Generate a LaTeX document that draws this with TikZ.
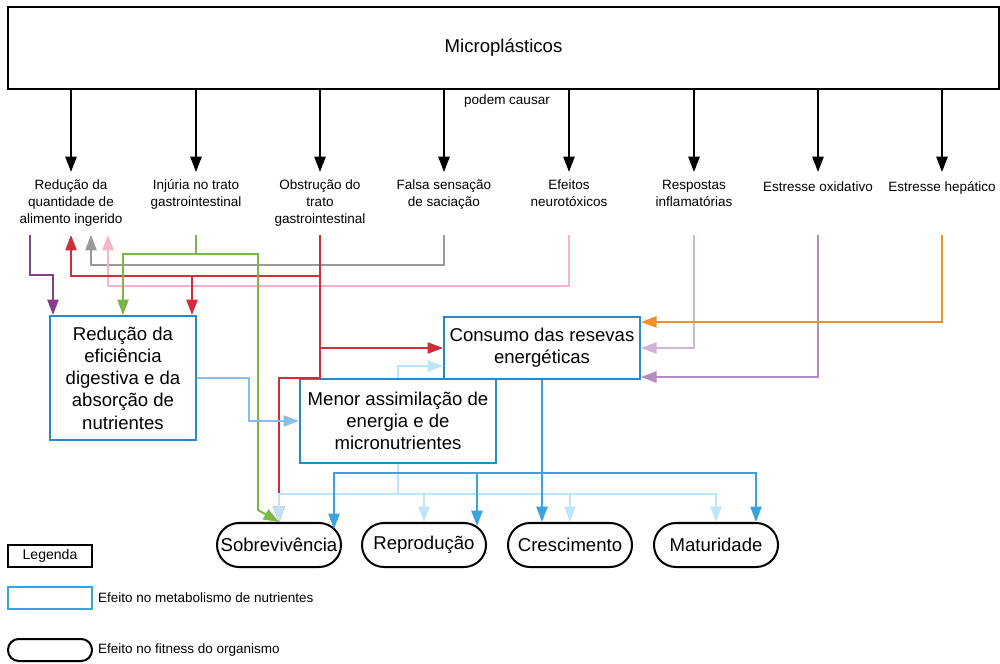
\documentclass[tikz,border=0pt]{standalone}
\usepackage{fontspec}
\setmainfont{Liberation Sans}
\usetikzlibrary{arrows.meta,positioning,calc}
\definecolor{boxblue}{RGB}{41,137,204}
\definecolor{effblue}{RGB}{58,163,222}
\definecolor{midblue}{RGB}{135,190,235}
\definecolor{paleblue}{RGB}{190,228,248}
\definecolor{redline}{RGB}{204,46,58}
\definecolor{greenline}{RGB}{122,182,72}
\definecolor{grayline}{RGB}{153,153,153}
\definecolor{pinkline}{RGB}{247,180,200}
\definecolor{purpleline}{RGB}{131,65,135}
\definecolor{lilacline}{RGB}{212,180,214}
\definecolor{mauveline}{RGB}{180,140,190}
\definecolor{orangeline}{RGB}{242,146,38}

\begin{document}
\begin{tikzpicture}[x=0.025cm,y=-0.025cm,
  line width=0.05cm, >={Triangle[length=11pt,width=8pt]},
  cause/.style={font=\fontsize{9.6}{12.1}\selectfont,align=center,anchor=north,
                inner xsep=1pt,inner ysep=5pt,execute at begin node=\strut},
  effect/.style={draw=boxblue,align=center,inner sep=2pt,
                 font=\fontsize{13.2}{15.8}\selectfont},
  fitness/.style={draw,rounded corners=0.55cm,minimum width=3.1cm,
                  minimum height=1.1cm,inner sep=0pt,font=\fontsize{13.2}{15.8}\selectfont},
  legtext/.style={font=\fontsize{9.6}{11.5}\selectfont,inner sep=0pt}]

\useasboundingbox (0,0) rectangle (1000,664);

% ---- source and causes ----
\node[draw,minimum width=24.775cm,minimum height=2.05cm,
      font=\fontsize{13.2}{15.8}\selectfont] (micro) at (503.5,48) {Microplásticos};
\node[cause] (qtd) at (71,172) {Redução da\\quantidade de\\alimento ingerido};
\node[cause] (lesao) at (196,172) {Injúria no trato\\gastrointestinal};
\node[cause] (obst) at (320,172) {Obstrução do\\trato\\gastrointestinal};
\node[cause] (falsa) at (444,172) {Falsa sensação\\de saciação};
\node[cause] (neuro) at (569,172) {Efeitos\\neurotóxicos};
\node[cause] (infl) at (694,172) {Respostas\\inflamatórias};
\node[cause] (oxid) at (818,172) {Estresse oxidativo};
\node[cause] (hepat) at (942,172) {Estresse hepático};
\foreach \c in {qtd,lesao,obst,falsa,neuro,infl,oxid,hepat} {
  \draw[->] (micro.south -| \c.north) -- (\c.north);
  \path (\c.north) ++(0,63) coordinate (\c-o);
}
\node[font=\fontsize{9.6}{12}\selectfont] (pode) at (507,101) {podem causar};

% ---- effects on metabolism ----
\node[effect,minimum width=3.65cm,minimum height=3.1cm] (effA) at (123,378)
  {Redução da\\eficiência\\digestiva e da\\absorção de\\nutrientes};
\node[effect,minimum width=4.9cm,minimum height=2.1cm] (effB) at (398,421)
  {Menor assimilação de\\energia e de\\micronutrientes};
\node[effect,minimum width=4.9cm,minimum height=1.55cm] (effC) at (542,348)
  {Consumo das resevas\\energéticas};

% ---- effects on fitness ----
\node[fitness] (sobrev) at (279,545) {Sobrevivência};
\node[fitness] (repro) at (424,545) {Reprodução};
\node[fitness] (cresc) at (570,545) {Crescimento};
\node[fitness] (matur) at (716,545) {Maturidade};

% ---- legend ----
\node[draw,minimum width=2.1cm,minimum height=0.55cm,inner sep=0pt,
      font=\fontsize{10}{12}\selectfont] (leg) at (50,556) {Legenda};
\node[draw=effblue,minimum width=2.1cm,minimum height=0.55cm] (legmeta) at (50,598) {};
\node[legtext,right=0.1cm of legmeta] {Efeito no metabolismo de nutrientes};
\node[draw,rounded corners=0.27cm,minimum width=2.1cm,
      minimum height=0.55cm] (legfit) at (50,650) {};
\node[legtext,right=0.1cm of legfit] {Efeito no fitness do organismo};

% ---- pathways from the causes ----
\draw[grayline,->] (falsa-o) |- (91,265) -- (91,265 |- qtd-o);
\draw[pinkline,->] (neuro-o) |- (108,286) -- (108,286 |- qtd-o);
\draw[purpleline,->] ($(qtd-o)+(-41,0)$) |- (53,275) -- (53,275 |- effA.north);
\draw[redline,->] (obst-o) |- (71,276) -- (qtd-o);
\draw[redline,->] (192,276) -- (192,276 |- effA.north);
\draw[redline,->] (obst-o) -- (obst-o |- effB.north) -| (sobrev.north);
\draw[redline,->] (obst-o |- effC.west) -- (effC.west);
\draw[greenline] (lesao-o) -- ++(0,19) coordinate (gj);
\draw[greenline,->] (gj) -| (123,254 |- effA.north);
\draw[greenline,->] (gj) -| (258,510) -- (sobrev.north);
\draw[lilacline,->] (infl-o) |- (effC.east);
\draw[mauveline,->] (oxid-o) |- ($(effC.south east)+(0,-3)$);
\draw[orangeline,->] (hepat-o) |- ($(effC.north east)+(0,6)$);

% ---- metabolic chain ----
\draw[midblue,->] (effA.east) -- ++(52,0) |- (effB.west);
\draw[paleblue,->] (effB.north) |- ($(effC.west)+(0,18)$);
\coordinate (bbus) at ($(effB.south)+(0,30)$);
\draw[paleblue] (effB.south) -- (bbus);
\foreach \f in {sobrev,repro,cresc,matur}
  \draw[paleblue,->] (bbus) -| (\f.north);
\coordinate (cbus) at ($(effC.south)+(0,93)$);
\draw[effblue,->] (effC.south) -- (effC.south |- cresc.north);
\draw[effblue,->] (cbus) -| ($(sobrev.north)+(55,7)$);
\draw[effblue,->] (cbus) -| ($(repro.north)+(53,4)$);
\draw[effblue,->] (cbus) -| ($(matur.north)+(40,0)$);
\end{tikzpicture}
\end{document}
